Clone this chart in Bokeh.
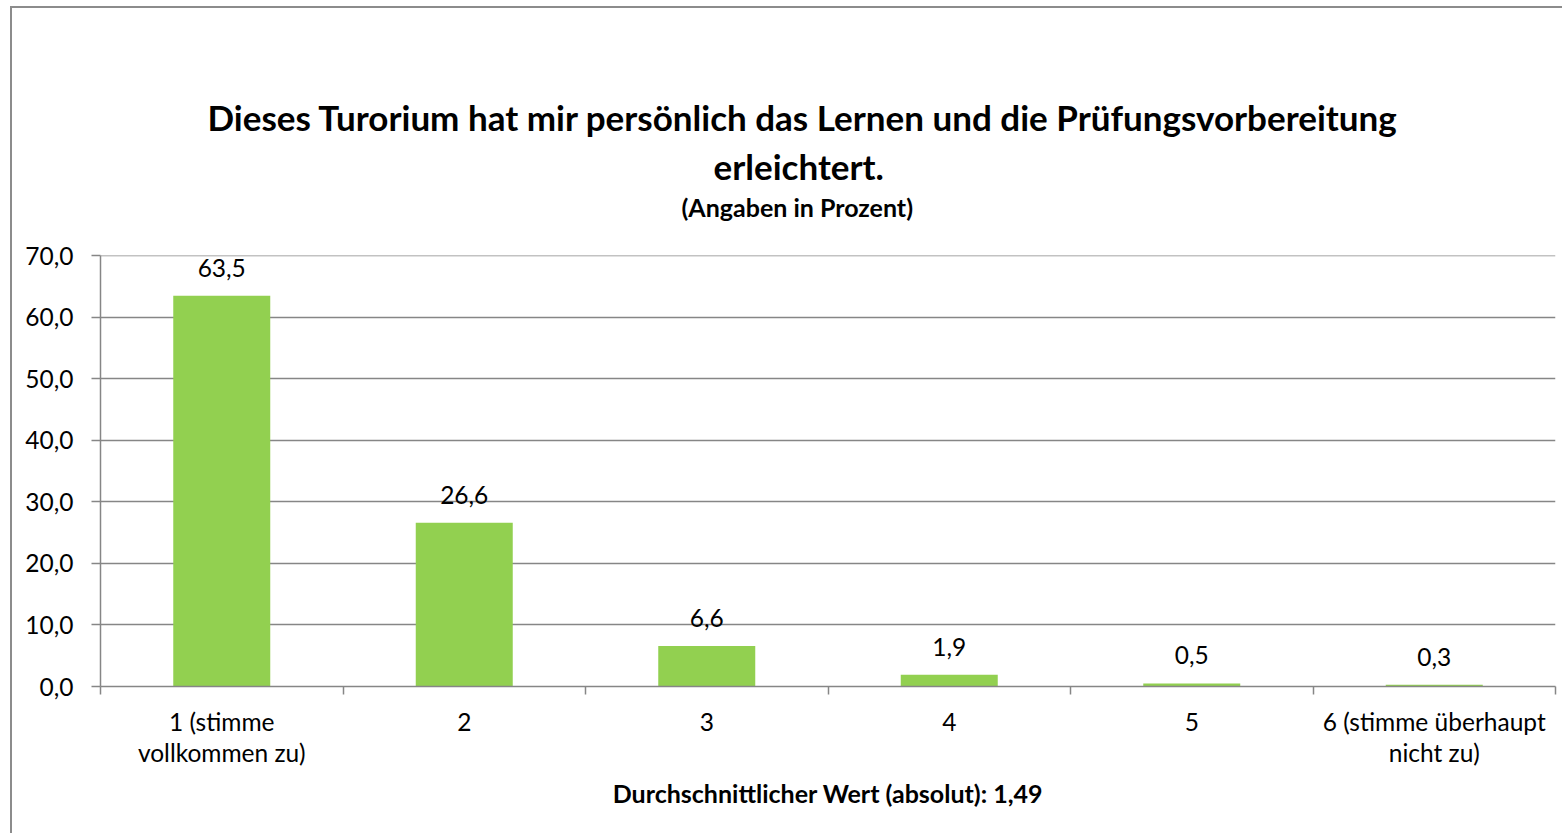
import numpy as np
from bokeh.plotting import figure
from bokeh.models import FixedTicker, LabelSet, ColumnDataSource, Range1d, Title
from bokeh.core.properties import value
from bokeh.embed import file_html
from bokeh.resources import INLINE

categories = ["1 (stimme\nvollkommen zu)", "2", "3", "4", "5", "6 (stimme überhaupt\nnicht zu)"]
values = [63.5, 26.6, 6.6, 1.9, 0.5, 0.3]
y_ticks = [0, 10, 20, 30, 40, 50, 60, 70]
title_lines = ["Dieses Turorium hat mir persönlich das Lernen und die Prüfungsvorbereitung",
               "erleichtert."]
subtitle = "(Angaben in Prozent)"
x_title = "Durchschnittlicher Wert (absolut): 1,49"

FONT = "Lato"
GREY = "#868686"
LBL = "24.5px"

def de(v, nd=1):
    return f"{v:.{nd}f}".replace(".", ",")

n = len(categories)
xpos = np.arange(n) + 0.5

p = figure(width=1552, height=827, output_backend="svg", toolbar_location=None,
           x_range=Range1d(0, n), y_range=Range1d(0, 70.05),
           min_border_left=88, min_border_right=9, min_border_top=247, min_border_bottom=149)
p.outline_line_color = None
p.xgrid.grid_line_color = None
p.ygrid.ticker = FixedTicker(ticks=y_ticks)
p.ygrid.grid_line_color = GREY
p.ygrid.grid_line_width = 1.5

src = ColumnDataSource(dict(x=xpos, top=values, cat=categories,
                            lbl=[de(v) for v in values]))
p.vbar(x="x", top="top", width=0.4, bottom=0, source=src,
       fill_color="#92D050", line_color=None)

p.add_layout(LabelSet(x="x", y="top", text="lbl", source=src, text_align="center",
                      text_baseline="alphabetic", y_offset=19,
                      text_font=value(FONT), text_font_size=value(LBL),
                      text_color="black"))

# y axis
ya = p.yaxis[0]
ya.ticker = FixedTicker(ticks=y_ticks, minor_ticks=[])
ya.major_label_overrides = {t: de(t) for t in y_ticks}
ya.major_label_text_font = FONT
ya.major_label_text_font_size = LBL
ya.major_label_text_color = "black"
ya.major_label_standoff = 18
ya.major_tick_out = 9
ya.major_tick_in = 0
ya.minor_tick_line_color = None
ya.axis_line_color = GREY
ya.major_tick_line_color = GREY
ya.axis_line_width = 1.5
ya.major_tick_line_width = 1.5

# x axis
xa = p.xaxis[0]
xa.ticker = FixedTicker(ticks=list(xpos), minor_ticks=list(range(n + 1)))
xa.major_label_overrides = {float(x): c for x, c in zip(xpos, categories)}
xa.major_label_text_font = FONT
xa.major_label_text_font_size = LBL
xa.major_label_text_color = "black"
xa.major_label_text_line_height = 1.1
xa.major_label_standoff = 12
xa.major_tick_line_color = None
xa.minor_tick_out = 8
xa.minor_tick_in = 0
xa.minor_tick_line_color = GREY
xa.minor_tick_line_width = 1.5
xa.axis_line_color = GREY
xa.axis_line_width = 1.5
xa.axis_label = x_title
xa.axis_label_text_font = FONT
xa.axis_label_text_font_style = "bold"
xa.axis_label_text_font_size = "25px"
xa.axis_label_text_color = "black"
xa.axis_label_standoff = 8

# titles (added nearest-to-frame first); left-aligned with offsets so that they centre near x=800
p.add_layout(Title(text=" ", align="left", standoff=31, text_font_size="1px"), "above")
p.add_layout(Title(text=subtitle, align="left", offset=581, standoff=0,
                   text_font=FONT, text_font_style="bold", text_font_size="25px",
                   text_color="black"), "above")
p.add_layout(Title(text=title_lines[1], align="left", offset=613, standoff=6,
                   text_font=FONT, text_font_style="bold", text_font_size="35px",
                   text_color="black"), "above")
p.add_layout(Title(text=title_lines[0], align="left", offset=107, standoff=4,
                   text_font=FONT, text_font_style="bold", text_font_size="35px",
                   text_color="black"), "above")

p.styles = {"margin-left": "10px", "margin-top": "6px",
            "border-left": "2px solid #8c8c8c", "border-top": "2px solid #8c8c8c"}

open("out.html", "w").write(file_html(p, INLINE))
